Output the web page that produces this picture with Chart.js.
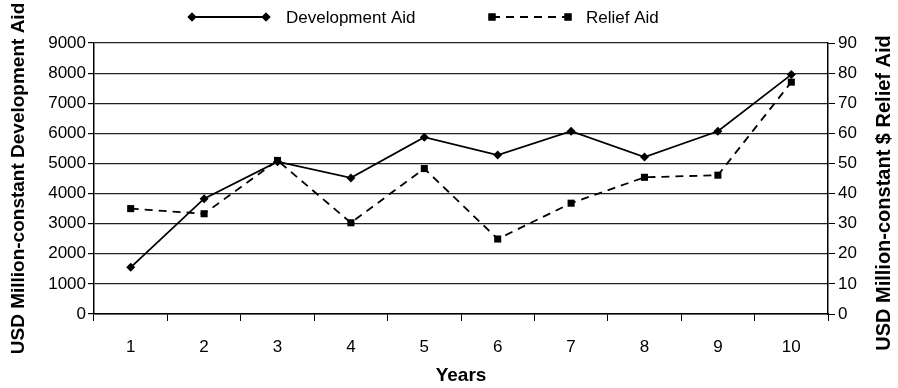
<!DOCTYPE html>
<html>
<head>
<meta charset="utf-8">
<script src="https://cdn.jsdelivr.net/npm/chart.js@4/dist/chart.umd.min.js"></script>
<style>
  html, body { margin: 0; padding: 0; background: #ffffff; }
  #wrap { width: 898px; height: 388px; }
</style>
</head>
<body>
<div id="wrap"><canvas id="c" width="898" height="388"></canvas></div>
<script>
// Years on the horizontal axis
const years = ['1', '2', '3', '4', '5', '6', '7', '8', '9', '10'];
// Development aid, USD million (constant), left axis
const developmentAid = [1550, 3830, 5060, 4520, 5870, 5280, 6070, 5210, 6070, 7950];
// Relief aid, USD million (constant $), right axis
const reliefAid = [35, 33.3, 51, 30.3, 48.3, 24.9, 36.8, 45.4, 46.1, 77];

const FONT = '"Liberation Sans", Arial, Helvetica, sans-serif';
const INK = '#000000';

// Legend drawn as a line sample with a marker at each end, followed by the label
const pairLegend = {
  id: 'pairLegend',
  afterDraw(chart) {
    const ctx = chart.ctx;
    const slots = [
      { from: 192, to: 266, text: 286 },
      { from: 492, to: 568, text: 586 }
    ];
    const y = 17;
    chart.data.datasets.forEach((ds, i) => {
      const s = slots[i];
      ctx.save();
      ctx.strokeStyle = ds.borderColor;
      ctx.lineWidth = ds.borderWidth;
      ctx.setLineDash(ds.borderDash || []);
      ctx.beginPath();
      ctx.moveTo(s.from, y);
      ctx.lineTo(s.to, y);
      ctx.stroke();
      ctx.setLineDash([]);
      ctx.fillStyle = ds.pointBackgroundColor;
      [s.from, s.to].forEach(px => {
        Chart.helpers.drawPoint(ctx, {
          pointStyle: ds.pointStyle,
          radius: ds.pointRadius,
          borderWidth: 0,
          rotation: 0
        }, px, y);
        ctx.fill();
      });
      ctx.fillStyle = INK;
      ctx.font = '17px ' + FONT;
      ctx.textBaseline = 'middle';
      ctx.textAlign = 'left';
      ctx.fillText(ds.label, s.text, y + 1);
      ctx.restore();
    });

    // Right-hand axis title, reading bottom to top
    ctx.save();
    ctx.translate(884, 193);
    ctx.rotate(-Math.PI / 2);
    ctx.font = 'bold 20px ' + FONT;
    ctx.fillStyle = INK;
    ctx.textAlign = 'center';
    ctx.textBaseline = 'middle';
    ctx.fillText('USD Million-constant $ Relief Aid', 0, 0);
    ctx.restore();
  }
};

const plainNumber = v => String(v);

new Chart(document.getElementById('c'), {
  type: 'line',
  data: {
    labels: years,
    datasets: [
      {
        label: 'Development Aid',
        data: developmentAid,
        yAxisID: 'y',
        borderColor: INK,
        borderWidth: 1.8,
        pointStyle: 'rectRot',
        pointRadius: 4.5,
        pointBackgroundColor: INK,
        pointBorderWidth: 0,
        tension: 0,
        fill: false
      },
      {
        label: 'Relief Aid',
        data: reliefAid,
        yAxisID: 'y1',
        borderColor: INK,
        borderWidth: 1.8,
        borderDash: [8, 6],
        pointStyle: 'rect',
        pointRadius: 5,
        pointBackgroundColor: INK,
        pointBorderWidth: 0,
        tension: 0,
        fill: false
      }
    ]
  },
  options: {
    responsive: false,
    animation: false,
    devicePixelRatio: 1,
    layout: { padding: { top: 43, left: 0, right: 0, bottom: 0 } },
    plugins: {
      legend: { display: false },
      tooltip: { enabled: false }
    },
    scales: {
      x: {
        type: 'category',
        offset: true,
        afterFit(s) { s.height = 74; },
        grid: {
          offset: true,
          drawOnChartArea: false,
          drawTicks: true,
          tickLength: 7,
          color: INK,
          lineWidth: 1
        },
        border: { display: true, color: INK, width: 1.5 },
        ticks: {
          color: INK,
          font: { family: FONT, size: 17 },
          padding: 16,
          maxRotation: 0,
          autoSkip: false
        },
        title: {
          display: true,
          text: 'Years',
          color: INK,
          font: { family: FONT, size: 19, weight: 'bold' },
          padding: { top: 0, bottom: 1 }
        }
      },
      y: {
        position: 'left',
        min: 0,
        max: 9000,
        afterFit(s) { s.width = 94; },
        grid: {
          drawOnChartArea: true,
          drawTicks: true,
          tickLength: 6,
          color: '#222222',
          tickColor: INK,
          lineWidth: 1.2
        },
        border: { display: true, color: INK, width: 1.5 },
        ticks: {
          stepSize: 1000,
          color: INK,
          font: { family: FONT, size: 17 },
          padding: 2,
          callback: plainNumber
        },
        title: {
          display: true,
          text: 'USD Million-constant Development Aid',
          color: INK,
          font: { family: FONT, size: 19, weight: 'bold' },
          padding: { top: 7, bottom: 0 }
        }
      },
      y1: {
        position: 'right',
        min: 0,
        max: 90,
        afterFit(s) { s.width = 70; },
        grid: {
          drawOnChartArea: false,
          drawTicks: true,
          tickLength: 7,
          color: INK,
          lineWidth: 1
        },
        border: { display: true, color: INK, width: 1.5 },
        ticks: {
          stepSize: 10,
          color: INK,
          font: { family: FONT, size: 17 },
          padding: 3,
          callback: plainNumber
        }
      }
    }
  },
  plugins: [pairLegend]
});
</script>
</body>
</html>
